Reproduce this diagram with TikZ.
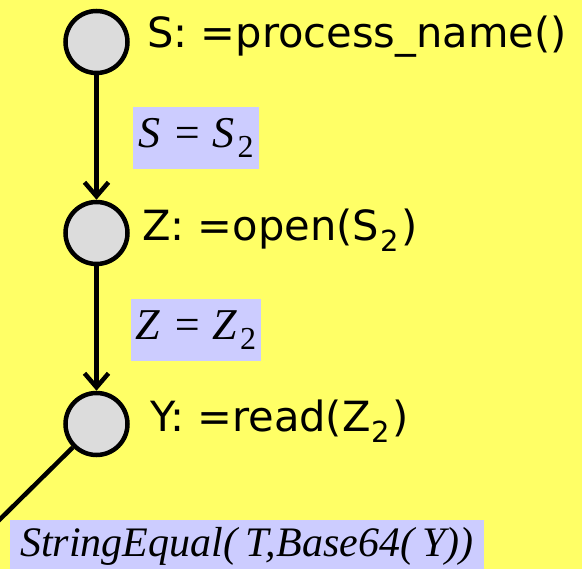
\documentclass[tikz,border=0pt]{standalone}
\usepackage{fontspec}
\setmainfont{Liberation Serif}
\setsansfont{DejaVu Sans}
\usetikzlibrary{arrows.meta}
\definecolor{pagebg}{RGB}{255,255,102}
\definecolor{statefill}{RGB}{220,220,220}
\definecolor{condfill}{RGB}{204,204,255}
% lowered subscript digit: #1 drop, #2 size, #3 digit
\newcommand\lowsub[3]{\raisebox{-#1}{\fontsize{#2}{#2}\selectfont\upshape #3}}
\begin{document}
\begin{tikzpicture}[x=1pt,y=-1pt,
  state/.style={circle,draw=black,line width=4.5pt,fill=statefill,minimum size=62pt,inner sep=0pt},
  stmt/.style={anchor=base west,inner sep=0pt,font=\sffamily\fontsize{41.6}{41.6}\selectfont},
  cond/.style={fill=condfill,inner sep=0pt,font=\itshape\fontsize{44}{44}\selectfont},
  flow/.style={line width=4.5pt,-{Straight Barb[length=14pt,width=24pt]}},
  edge/.style={line width=4.5pt}]
  \fill[pagebg] (0,0) rectangle (582,569);
  \useasboundingbox (0,0) rectangle (582,569);
  \clip (0,0) rectangle (582,569);

  % states
  \node[state] (S) at (96.5,42) {};
  \node[state] (Z) at (96.5,233) {};
  \node[state] (Y) at (96.5,424) {};

  % statements next to each state
  \node[stmt] (ls) at (147,48) {S: =process\_name()};
  \node[stmt] (lz) at (142,241) {Z: =open(S\hspace{0.03em}\lowsub{0.25em}{29}{2}\hspace{0.05em})};
  \node[stmt] (ly) at (150,432) {Y: =read(Z\hspace{0.03em}\lowsub{0.25em}{29}{2}\hspace{0.05em})};

  % transitions
  \draw[flow] (S) -- (Z);
  \draw[flow] (Z) -- (Y);
  \coordinate (tail) at (-20,539);
  \draw[edge] (Y) -- (tail);

  % conditions
  \node[cond,minimum width=126pt,minimum height=62pt] (c1) at (196,138)
    {S\hspace{0.27em}=\hspace{0.24em}S\hspace{0.07em}\lowsub{10pt}{32}{2}};
  \node[cond,minimum width=130pt,minimum height=62pt] (c2) at (196,330)
    {Z\hspace{0.27em}=\hspace{0.24em}Z\hspace{0.07em}\lowsub{10pt}{32}{2}};
  \node[cond,font=\itshape\fontsize{42}{42}\selectfont,minimum width=474pt,minimum height=52pt] (c3) at (247,546)
    {StringEqual(\hspace{0.2em}T,Base64(\hspace{0.2em}Y))};
\end{tikzpicture}
\end{document}
